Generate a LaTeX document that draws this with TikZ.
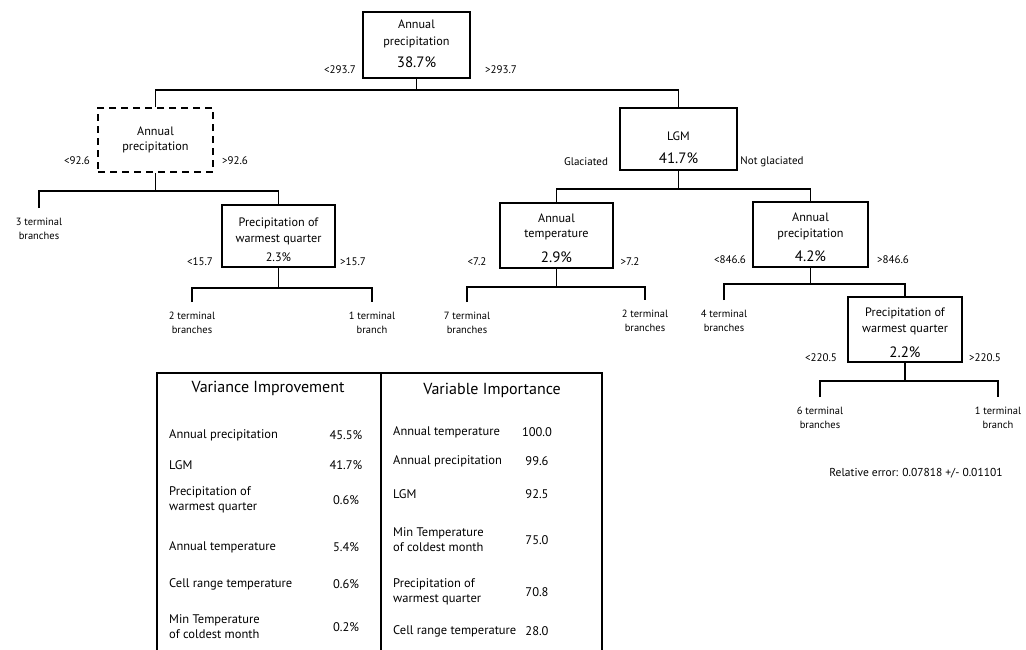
\documentclass[tikz,border=0pt]{standalone}
\usepackage{fontspec}
\setmainfont{PT Sans}
\usetikzlibrary{calc}
\begin{document}
\begin{tikzpicture}[x=1pt,y=-1pt,
  box/.style={draw,line width=2.2pt,inner sep=0pt},
  dbox/.style={draw,line width=2pt,dash pattern=on 7pt off 5pt,inner sep=0pt},
  con/.style={line width=1.8pt},
  txt/.style={font=\fontsize{12.2}{14}\selectfont,inner sep=0pt},
  pct/.style={font=\fontsize{15}{17}\selectfont,inner sep=0pt},
  lab/.style={font=\fontsize{11}{13}\selectfont,inner sep=0pt},
  term/.style={font=\fontsize{10.5}{14}\selectfont,align=center,anchor=north,inner xsep=0pt,inner ysep=10pt},
  row/.style={font=\fontsize{12.5}{15}\selectfont,anchor=west,align=left,inner sep=0pt},
  val/.style={font=\fontsize{12.5}{15}\selectfont,inner sep=0pt},
  ttl/.style={font=\fontsize{16}{18}\selectfont,inner sep=0pt}]
\useasboundingbox[fill=white] (0,0) rectangle (1026,649);

% ---------- tree boxes ----------
\node[box,minimum width=107pt,minimum height=66pt] (root) at (416.5,45) {};
\node[txt] (rootA) at (416.5,24) {Annual};
\node[txt] (rootB) at (416.5,42) {precipitation};
\node[pct] (rootC) at (416.5,62) {38.7\%};
\node[lab] (rootL) at (340,70) {<293.7};
\node[lab] (rootR) at (501,70) {>293.7};

\node[dbox,minimum width=115pt,minimum height=64pt] (dash) at (155.5,140) {};
\node[txt] (dashA) at (155.5,131) {Annual};
\node[txt] (dashB) at (155.5,147) {precipitation};
\node[lab] (dashL) at (77,161) {<92.6};
\node[lab] (dashR) at (235,161) {>92.6};

\node[box,minimum width=113pt,minimum height=62pt] (pwa) at (278.5,236) {};
\node[txt] (pwaA) at (278.5,223) {Precipitation of};
\node[txt] (pwaB) at (278.5,240) {warmest quarter};
\node[txt] (pwaC) at (278.5,257) {2.3\%};
\node[lab] (pwaL) at (200,262) {<15.7};
\node[lab] (pwaR) at (353,262) {>15.7};

\node[box,minimum width=117pt,minimum height=62pt] (lgm) at (678.5,139) {};
\node[txt] (lgmA) at (678.5,136) {LGM};
\node[pct] (lgmB) at (678.5,158) {41.7\%};
\node[lab] (lgmL) at (586,162) {Glaciated};
\node[lab] (lgmR) at (772,162) {Not glaciated};

\node[box,minimum width=113pt,minimum height=65pt] (at) at (556.5,235.5) {};
\node[txt] (atA) at (556.5,218) {Annual};
\node[txt] (atB) at (556.5,235) {temperature};
\node[pct] (atC) at (556.5,257) {2.9\%};
\node[lab] (atL) at (477,262) {<7.2};
\node[lab] (atR) at (630,262) {>7.2};

\node[box,minimum width=115pt,minimum height=65pt] (apb) at (810.5,234.5) {};
\node[txt] (apbA) at (810.5,217) {Annual};
\node[txt] (apbB) at (810.5,234) {precipitation};
\node[pct] (apbC) at (810.5,256) {4.2\%};
\node[lab] (apbL) at (730,260) {<846.6};
\node[lab] (apbR) at (893,260) {>846.6};

\node[box,minimum width=114pt,minimum height=65pt] (pwb) at (905,329.5) {};
\node[txt] (pwbA) at (905,313) {Precipitation of};
\node[txt] (pwbB) at (905,330) {warmest quarter};
\node[pct] (pwbC) at (905,352) {2.2\%};
\node[lab] (pwbL) at (821,358) {<220.5};
\node[lab] (pwbR) at (985,358) {>220.5};

% ---------- terminal branches ----------
\node[term] (t3) at (39,208) {3 terminal\\branches};
\node[term] (t2a) at (192,302) {2 terminal\\branches};
\node[term] (t1a) at (372,302) {1 terminal\\branch};
\node[term] (t7) at (467,302) {7 terminal\\branches};
\node[term] (t2b) at (645,300) {2 terminal\\branches};
\node[term] (t4) at (724,300) {4 terminal\\branches};
\node[term] (t6) at (820,397) {6 terminal\\branches};
\node[term] (t1b) at (998,397) {1 terminal\\branch};

% ---------- connectors ----------
\coordinate (j1) at ($(root.south)+(0,11)$);
\coordinate (j2) at ($(dash.south)+(0,18)$);
\coordinate (j3) at ($(pwa.south)+(0,20)$);
\coordinate (j4) at ($(lgm.south)+(0,18)$);
\coordinate (j5) at ($(at.south)+(0,18)$);
\coordinate (j6) at ($(apb.south)+(0,16)$);
\coordinate (j7) at ($(pwb.south)+(0,18)$);

\draw[con] (root.south) -- (j1);
\draw[con] (dash.north) |- (j1) -| (lgm.north);
\draw[con] (dash.south) -- (j2);
\draw[con] (t3.north) |- (j2) -| (pwa.north);
\draw[con] (pwa.south) -- (j3);
\draw[con] (t2a.north) |- (j3) -| (t1a.north);
\draw[con] (lgm.south) -- (j4);
\draw[con] (at.north) |- (j4) -| (apb.north);
\draw[con] (at.south) -- (j5);
\draw[con] (t7.north) |- (j5) -| (t2b.north);
\draw[con] (apb.south) -- (j6);
\draw[con] (t4.north) |- (j6) -| (pwb.north);
\draw[con] (pwb.south) -- (j7);
\draw[con] (t6.north) |- (j7) -| (t1b.north);

\node[font=\fontsize{11.5}{13}\selectfont,inner sep=0pt] (relerr) at (916,473) {Relative error: 0.07818 +/- 0.01101};

% ---------- tables ----------
\draw[line width=2.2pt] (157,655) -- (157,373) -- (602,373) -- (602,655);
\draw[line width=1.8pt] (381,373) -- (381,655);

\node[ttl] (vi) at (268,388) {Variance Improvement};
\node[row] (v1) at (169,435) {Annual precipitation};
\node[val] (v1v) at (346,435) {45.5\%};
\node[row] (v2) at (169,465) {LGM};
\node[val] (v2v) at (346,465) {41.7\%};
\node[row] (v3) at (169,500) {Precipitation of\\warmest quarter};
\node[val] (v3v) at (346,500) {0.6\%};
\node[row] (v4) at (169,547) {Annual temperature};
\node[val] (v4v) at (346,547) {5.4\%};
\node[row] (v5) at (169,584) {Cell range temperature};
\node[val] (v5v) at (346,584) {0.6\%};
\node[row] (v6) at (169,627) {Min Temperature\\of coldest month};
\node[val] (v6v) at (346,627) {0.2\%};

\node[ttl] (im) at (492,390) {Variable Importance};
\node[row] (i1) at (393,432) {Annual temperature};
\node[val] (i1v) at (537,432) {100.0};
\node[row] (i2) at (393,461) {Annual precipitation};
\node[val] (i2v) at (537,461) {99.6};
\node[row] (i3) at (393,494) {LGM};
\node[val] (i3v) at (537,494) {92.5};
\node[row] (i4) at (393,540) {Min Temperature\\of coldest month};
\node[val] (i4v) at (537,540) {75.0};
\node[row] (i5) at (393,592) {Precipitation of\\warmest quarter};
\node[val] (i5v) at (537,592) {70.8};
\node[row] (i6) at (393,631) {Cell range temperature};
\node[val] (i6v) at (537,631) {28.0};
\end{tikzpicture}
\end{document}
